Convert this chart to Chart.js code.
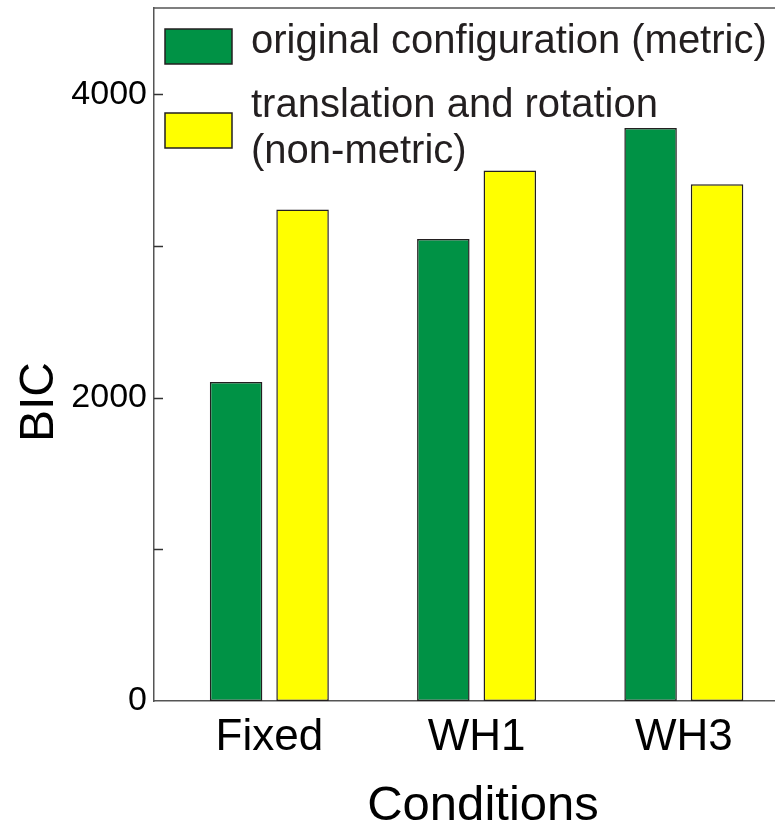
<!DOCTYPE html>
<html>
<head>
<meta charset="utf-8">
<script src="https://cdn.jsdelivr.net/npm/chart.js@4/dist/chart.umd.min.js"></script>
<style>
  html, body { margin: 0; padding: 0; background: #fff; overflow: hidden; }
  #wrap { width: 775px; height: 824px; }
</style>
</head>
<body>
<div id="wrap"><canvas id="c" width="775" height="824"></canvas></div>
<script>
const categories = ['Fixed', 'WH1', 'WH3'];
const seriesNames = ['original configuration (metric)', ['translation and rotation', '(non-metric)']];
const metricValues = [2104, 3047, 3778];
const nonMetricValues = [3242, 3498, 3407];
const yTickValues = [0, 1000, 2000, 3000, 4000];
const yTickLabels = [0, 2000, 4000];
const yMax = 4570;
const xTitle = 'Conditions';
const yTitle = 'BIC';

const FONT = "'Liberation Sans', Arial, sans-serif";
const GREEN = '#009245';
const YELLOW = '#ffff00';
const EDGE = '#231f20';

const toPoints = arr => arr.map((v, i) => ({ x: i + 1, y: v }));

const decorPlugin = {
  id: 'decor',
  afterDraw(chart) {
    const ctx = chart.ctx;
    const a = chart.chartArea;
    const ys = chart.scales.y;
    ctx.save();
    // top frame line
    ctx.strokeStyle = '#555';
    ctx.lineWidth = 1.5;
    ctx.beginPath();
    ctx.moveTo(a.left, a.top);
    ctx.lineTo(a.right, a.top);
    ctx.stroke();
    // inward tick marks
    ctx.strokeStyle = '#333';
    ctx.lineWidth = 1.5;
    ys.ticks.forEach(t => {
      if (t.value === 0) return;
      const y = Math.round(ys.getPixelForValue(t.value)) + 0.5;
      ctx.beginPath();
      ctx.moveTo(a.left, y);
      ctx.lineTo(a.left + 9, y);
      ctx.stroke();
    });
    // legend
    const ds = chart.data.datasets;
    const bx = a.left + 11, bw = 67, bh = 35;
    const boxTops = [a.top + 21, a.top + 105];
    const baselines = [[a.top + 45], [a.top + 109, a.top + 155]];
    ctx.font = '40px ' + FONT;
    ctx.textAlign = 'left';
    ctx.textBaseline = 'alphabetic';
    ds.forEach((d, i) => {
      ctx.fillStyle = d.backgroundColor;
      ctx.fillRect(bx, boxTops[i], bw, bh);
      ctx.strokeStyle = EDGE;
      ctx.lineWidth = 1.5;
      ctx.strokeRect(bx, boxTops[i], bw, bh);
      ctx.fillStyle = EDGE;
      const lines = Array.isArray(d.label) ? d.label : [d.label];
      lines.forEach((ln, k) => ctx.fillText(ln, a.left + 97, baselines[i][k]));
    });
    // axis titles
    ctx.fillStyle = '#000';
    ctx.font = '49px ' + FONT;
    ctx.textAlign = 'center';
    ctx.textBaseline = 'alphabetic';
    ctx.fillText(xTitle, 483, 820);
    ctx.save();
    ctx.translate(53, 402);
    ctx.rotate(-Math.PI / 2);
    ctx.font = '48px ' + FONT;
    ctx.fillText(yTitle, 0, 0);
    ctx.restore();
    ctx.restore();
  }
};

new Chart(document.getElementById('c'), {
  type: 'bar',
  data: {
    datasets: [
      { label: seriesNames[0], data: toPoints(metricValues), backgroundColor: GREEN, borderColor: EDGE, borderWidth: 1.5, borderSkipped: false },
      { label: seriesNames[1], data: toPoints(nonMetricValues), backgroundColor: YELLOW, borderColor: EDGE, borderWidth: 1.5, borderSkipped: false }
    ]
  },
  options: {
    responsive: false,
    animation: false,
    devicePixelRatio: 1,
    categoryPercentage: 0.6415,
    barPercentage: 0.79,
    layout: { padding: { top: 8, left: 0, right: 0, bottom: 0 } },
    plugins: { legend: { display: false }, tooltip: { enabled: false }, title: { display: false } },
    scales: {
      x: {
        type: 'linear',
        offset: false,
        min: 0.4435,
        max: 3.44,
        afterBuildTicks: s => { s.ticks = categories.map((_, i) => ({ value: i + 1 })); },
        afterFit: s => { s.height = 123; s.paddingLeft = 0; s.paddingRight = 0; },
        grid: { display: false, drawTicks: false },
        border: { display: true, color: '#555', width: 1.5 },
        ticks: {
          autoSkip: false,
          maxRotation: 0,
          padding: 10,
          color: '#000',
          font: { family: FONT, size: 44 },
          callback: v => categories[v - 1] || ''
        }
      },
      y: {
        type: 'linear',
        min: 0,
        max: yMax,
        afterBuildTicks: s => { s.ticks = yTickValues.map(v => ({ value: v })); },
        afterFit: s => { s.width = 154; s.paddingTop = 0; s.paddingBottom = 0; },
        grid: { display: false, drawTicks: false },
        border: { display: true, color: '#555', width: 1.5 },
        ticks: {
          autoSkip: false,
          padding: 7,
          color: '#000',
          font: { family: FONT, size: 34 },
          callback: v => yTickLabels.includes(v) ? String(v) : ''
        }
      }
    }
  },
  plugins: [decorPlugin]
});
</script>
</body>
</html>
